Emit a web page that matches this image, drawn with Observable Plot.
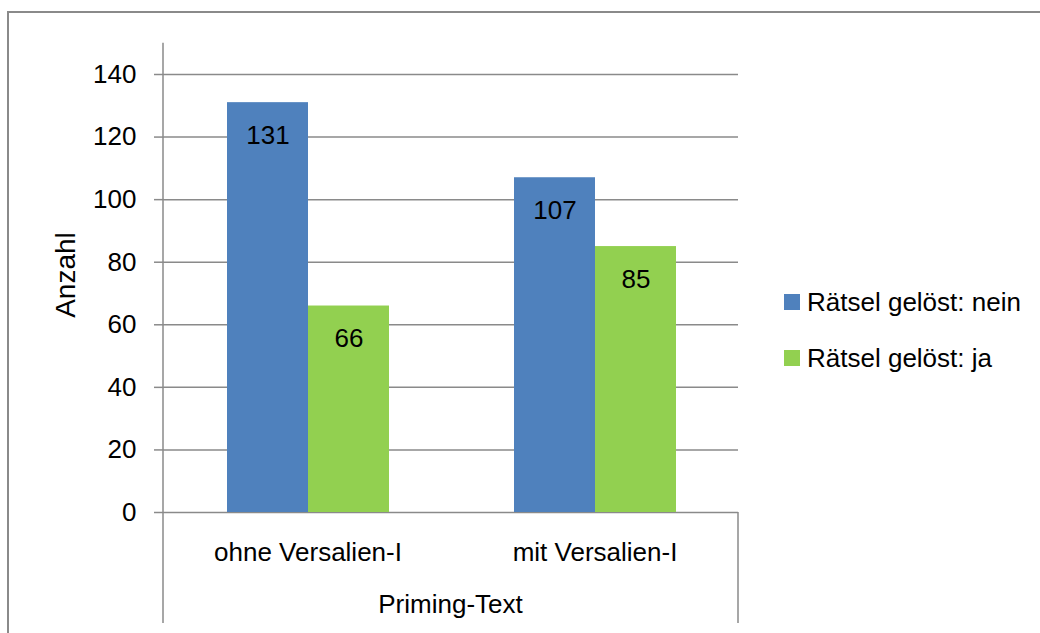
<!DOCTYPE html>
<html>
<head>
<meta charset="utf-8">
<script src="https://cdn.jsdelivr.net/npm/d3@7"></script>
<script src="https://cdn.jsdelivr.net/npm/@observablehq/plot@0.6"></script>
<style>
  html, body { margin: 0; padding: 0; background: #fff; overflow: hidden; }
  #wrap { position: relative; width: 1040px; height: 633px; font-family: "Liberation Sans", Arial, sans-serif; color: #000; }
  #border { position: absolute; left: 7px; top: 11px; width: 1100px; height: 700px; border: 2px solid #8a8a8a; pointer-events: none; z-index: 2; }
  #chart svg { display: block; background: transparent !important; }
  #chart svg g[aria-label^="y-axis"] line,
  #chart svg g[aria-label^="y-axis"] path { stroke: #8a8a8a; stroke-width: 1.5px; }
  #legend { position: absolute; left: 784px; top: 287px; font-size: 26px; z-index: 3; }
  .item { display: flex; align-items: center; height: 30px; margin-bottom: 26px; white-space: nowrap; }
  .sw { width: 16px; height: 16px; margin-right: 7px; flex: none; }
</style>
</head>
<body>
<div id="wrap">
  <div id="chart"></div>
  <div id="legend"></div>
  <div id="border"></div>
</div>
<script>
// ---- data ----
const categories = ["ohne Versalien-I", "mit Versalien-I"];
const series = ["Rätsel gelöst: nein", "Rätsel gelöst: ja"];
const valuesNein = [131, 107];
const valuesJa = [66, 85];
const yTicks = [0, 20, 40, 60, 80, 100, 120, 140];
const colors = ["#4F81BD", "#92D050"];
const yLabel = "Anzahl";
const xLabel = "Priming-Text";

const data = categories.flatMap((c, i) => [
  {cat: c, series: series[0], value: valuesNein[i]},
  {cat: c, series: series[1], value: valuesJa[i]}
]);

const chart = Plot.plot({
  width: 1040,
  height: 633,
  marginLeft: 163,
  marginRight: 302,
  marginTop: 74,
  marginBottom: 121,
  style: {fontFamily: "'Liberation Sans', Arial, sans-serif", fontSize: "26px", color: "#000", background: "transparent"},
  facet: {data, x: "cat"},
  fx: {domain: categories, padding: 0, axis: "bottom", tickSize: 0, tickPadding: 30, label: null},
  x: {domain: series, paddingInner: 0, paddingOuter: 0.753, axis: null},
  y: {domain: [0, 140], ticks: yTicks, tickSize: 10, tickPadding: 18, label: null},
  color: {domain: series, range: colors},
  marks: [
    Plot.gridY(yTicks, {stroke: "#8a8a8a", strokeOpacity: 1, strokeWidth: 1.5}),
    Plot.barY(data, {x: "series", y: "value", fill: "series"}),
    Plot.text(data, {x: "series", y: "value", text: d => String(d.value), lineAnchor: "top", dy: 23, fontSize: 26, fill: "#000"})
  ]
});
document.getElementById("chart").appendChild(chart);

// ---- axis lines and titles drawn with the plot's own scales ----
const fxs = chart.scale("fx");
const ys = chart.scale("y");
const [xl, xr] = fxs.range;
const svg = d3.select(chart);
const lineColor = "#8a8a8a";
const extentTop = 150, extentBottom = -35.5;
svg.append("line").attr("x1", xl).attr("x2", xl)
  .attr("y1", ys.apply(extentTop)).attr("y2", ys.apply(extentBottom))
  .attr("stroke", lineColor).attr("stroke-width", 1.5);
svg.append("line").attr("x1", xr).attr("x2", xr)
  .attr("y1", ys.apply(0)).attr("y2", ys.apply(extentBottom))
  .attr("stroke", lineColor).attr("stroke-width", 1.5);
svg.append("text").text(xLabel)
  .attr("x", (xl + xr) / 2).attr("y", ys.apply(0) + 101)
  .attr("text-anchor", "middle").attr("font-size", 26).attr("fill", "#000");
svg.append("text").text(yLabel)
  .attr("transform", `translate(75,${(ys.apply(0) + ys.apply(140)) / 2 - 18}) rotate(-90)`)
  .attr("text-anchor", "middle").attr("font-size", 28).attr("fill", "#000");

// ---- legend ----
const legend = d3.select("#legend");
series.forEach((s, i) => {
  const item = legend.append("div").attr("class", "item");
  item.append("div").attr("class", "sw").style("background", colors[i]);
  item.append("span").text(s);
});
</script>
</body>
</html>
